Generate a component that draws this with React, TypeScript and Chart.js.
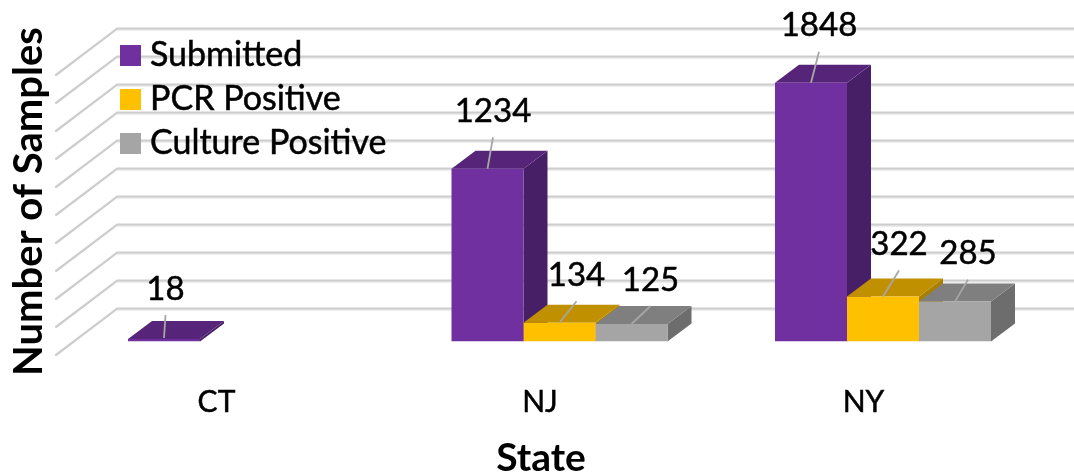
import React, { useEffect, useRef } from "react";
import { Chart, registerables } from "chart.js";

Chart.register(...registerables);

const categories = ["CT", "NJ", "NY"];
const submitted = [18, 1234, 1848];
const pcrPositive = [null, 134, 322];
const culturePositive = [null, 125, 285];
const seriesNames = ["Submitted", "PCR Positive", "Culture Positive"];

const FONT = "Lato, 'Open Sans', sans-serif";
const FRONT = ["#7030A0", "#FFC000", "#A5A5A5"];
const TOP = ["#562579", "#C09000", "#7F7F7F"];
const SIDE = ["#471F66", "#A87F00", "#6D6D6D"];
const DEPTH_X = 24;
const DEPTH_Y = 18;
// label offset [dx, dy] from each bar's top-front centre, per dataset then category
const LABEL_OFFSETS = [
  [[1.5, -50], [5.5, -57.5], [8, -57]],
  [null, [17, -47.5], [16, -52]],
  [null, [19, -44], [13, -48]],
];

function thickText(ctx: any, text: string, x: number, y: number) {
  ctx.fillStyle = "#000";
  ctx.strokeStyle = "#000";
  ctx.lineWidth = 0.5;
  ctx.fillText(text, x, y);
  ctx.strokeText(text, x, y);
}

const bar3d = {
  id: "bar3d",
  beforeDatasetsDraw(chart: any) {
    const { ctx, scales } = chart;
    const left = chart.chartArea.left;
    const yScale = scales.y;
    const wallX = left + 43;
    const floorX = left - 19;
    ctx.save();
    yScale.ticks.forEach((t: any) => {
      const y = yScale.getPixelForValue(t.value);
      const backY = y - 33;
      const frontY = y + 14;
      ctx.lineCap = "butt";
      ctx.strokeStyle = "#E6E6E6";
      ctx.lineWidth = 1.5;
      ctx.beginPath();
      ctx.moveTo(wallX, backY + 1.6);
      ctx.lineTo(chart.width, backY + 1.6);
      ctx.stroke();
      ctx.strokeStyle = "#CDCDCD";
      ctx.lineWidth = 2.2;
      ctx.beginPath();
      ctx.moveTo(floorX, frontY);
      ctx.lineTo(wallX, backY);
      ctx.lineTo(chart.width, backY);
      ctx.stroke();
    });
    chart.data.datasets.forEach((_: any, d: number) => {
      chart.getDatasetMeta(d).data.forEach((bar: any, i: number) => {
        if (chart.data.datasets[d].data[i] == null) return;
        const p = bar.getProps(["x", "y", "base", "width"], true);
        const l = p.x - p.width / 2;
        const r = p.x + p.width / 2;
        ctx.fillStyle = SIDE[d];
        ctx.beginPath();
        ctx.moveTo(r, p.y);
        ctx.lineTo(r + DEPTH_X, p.y - DEPTH_Y);
        ctx.lineTo(r + DEPTH_X, p.base - DEPTH_Y);
        ctx.lineTo(r, p.base);
        ctx.closePath();
        ctx.fill();
        ctx.fillStyle = TOP[d];
        ctx.beginPath();
        ctx.moveTo(l, p.y);
        ctx.lineTo(l + DEPTH_X, p.y - DEPTH_Y);
        ctx.lineTo(r + DEPTH_X, p.y - DEPTH_Y);
        ctx.lineTo(r, p.y);
        ctx.closePath();
        ctx.fill();
      });
    });
    ctx.restore();
  },
  afterDatasetsDraw(chart: any) {
    const { ctx } = chart;
    ctx.save();
    chart.data.datasets.forEach((ds: any, d: number) => {
      chart.getDatasetMeta(d).data.forEach((bar: any, i: number) => {
        const offset = LABEL_OFFSETS[d][i];
        if (ds.data[i] == null || !offset) return;
        const p = bar.getProps(["x", "y"], true);
        const lx = p.x + offset[0];
        const ly = p.y + offset[1];
        ctx.strokeStyle = "#A6A6A6";
        ctx.lineWidth = 1.8;
        ctx.beginPath();
        ctx.moveTo(p.x, p.y - (d === 0 && ds.data[i] < 100 ? 1 : 0));
        ctx.lineTo(lx, ly + 26);
        ctx.stroke();
        ctx.font = `33px ${FONT}`;
        ctx.textAlign = "center";
        ctx.textBaseline = "middle";
        thickText(ctx, String(ds.data[i]), lx, ly);
      });
    });
    // legend, drawn over the gridlines inside the plot
    seriesNames.forEach((name, i) => {
      const y = 45 + i * 44;
      ctx.fillStyle = FRONT[i];
      ctx.fillRect(120, y, 21, 21);
      ctx.font = `34px ${FONT}`;
      ctx.textAlign = "left";
      ctx.textBaseline = "middle";
      thickText(ctx, name, 150, y + 10);
    });
    ctx.font = `bold 39px ${FONT}`;
    ctx.textAlign = "center";
    ctx.fillStyle = "#000";
    ctx.fillText("State", 541, 458);
    ctx.restore();
  },
};

export default function App() {
  const ref = useRef<HTMLCanvasElement>(null);
  useEffect(() => {
    document.body.style.margin = "0";
    const chart = new Chart(ref.current!, {
      type: "bar",
      data: {
        labels: categories,
        datasets: [submitted, pcrPositive, culturePositive].map((data, i) => ({
          label: seriesNames[i],
          data,
          backgroundColor: FRONT[i],
          categoryPercentage: 0.6677,
          barPercentage: 1,
          grouped: true,
        })),
      },
      options: {
        responsive: false,
        animation: false,
        layout: { padding: { left: 0, right: 29.25, top: 61.5, bottom: 0 } },
        plugins: { legend: { display: false }, title: { display: false }, tooltip: { enabled: false } },
        scales: {
          x: {
            grid: { display: false },
            border: { display: false },
            afterFit: (s: any) => { s.height = 132.5; },
            ticks: {
              labelOffset: -19.5,
              padding: 35,
              color: "#000",
              textStrokeColor: "#000",
              textStrokeWidth: 0.5,
              font: { family: FONT, size: 30 },
              maxRotation: 0,
            },
          },
          y: {
            min: 0,
            max: 2000,
            grid: { display: false },
            border: { display: false },
            ticks: { stepSize: 200, display: false },
            afterFit: (s: any) => { s.width = 74.25; },
            title: {
              display: true,
              text: "Number of Samples",
              color: "#000",
              font: { family: FONT, size: 40, weight: "bold" },
              padding: { top: 5, bottom: 0 },
            },
          },
        },
      },
      plugins: [bar3d],
    } as any);
    return () => chart.destroy();
  }, []);
  return <canvas ref={ref} width={1074} height={474} style={{ display: "block" }} />;
}
